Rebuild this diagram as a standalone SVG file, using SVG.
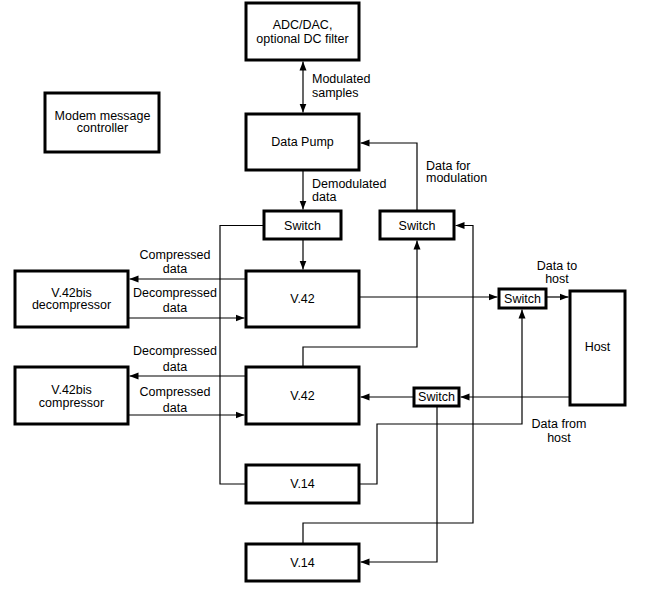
<svg xmlns="http://www.w3.org/2000/svg" width="655" height="589" viewBox="0 0 655 589">
<defs>
<style>
.box{fill:#fff;stroke:#000;stroke-width:3}
.t{font-family:"Liberation Sans",Arial,sans-serif;font-size:12.5px;fill:#000}
.m{text-anchor:middle}
.c{fill:none;stroke:#000;stroke-width:1.2}
</style>
<marker id="ah" markerUnits="userSpaceOnUse" markerWidth="9" markerHeight="8" refX="9" refY="4" orient="auto">
<path d="M0,0.5 L9,4 L0,7.5 z" fill="#000"/>
</marker>
<marker id="as" markerUnits="userSpaceOnUse" markerWidth="9" markerHeight="8" refX="0" refY="4" orient="auto">
<path d="M9,0.5 L0,4 L9,7.5 z" fill="#000"/>
</marker>
</defs>
<rect width="655" height="589" fill="#fff"/>
<g id="connectors">
<line class="c" x1="303" y1="61.5" x2="303" y2="112.5" marker-start="url(#as)" marker-end="url(#ah)"/>
<line class="c" x1="303" y1="170" x2="303" y2="209.5" marker-end="url(#ah)"/>
<line class="c" x1="303" y1="239" x2="303" y2="269.5" marker-end="url(#ah)"/>
<polyline class="c" points="417,211 417,143 360.5,143" marker-end="url(#ah)"/>
<polyline class="c" points="264,225.5 220,225.5 220,484 246,484"/>
<line class="c" x1="246" y1="279" x2="129.5" y2="279" marker-end="url(#ah)"/>
<line class="c" x1="128" y1="318" x2="244.5" y2="318" marker-end="url(#ah)"/>
<line class="c" x1="246" y1="376" x2="129.5" y2="376" marker-end="url(#ah)"/>
<line class="c" x1="128" y1="415" x2="244.5" y2="415" marker-end="url(#ah)"/>
<polyline class="c" points="303,367 303,347 417,347 417,240.5" marker-end="url(#ah)"/>
<line class="c" x1="359" y1="297" x2="497.5" y2="297" marker-end="url(#ah)"/>
<line class="c" x1="546" y1="297" x2="568.5" y2="297" marker-end="url(#ah)"/>
<line class="c" x1="570" y1="397" x2="460.5" y2="397" marker-end="url(#ah)"/>
<line class="c" x1="414" y1="397" x2="360.5" y2="397" marker-end="url(#ah)"/>
<polyline class="c" points="437,406 437,562 360.5,562" marker-end="url(#ah)"/>
<polyline class="c" points="359,484 377,484 377,424 522,424 522,309.5" marker-end="url(#ah)"/>
<polyline class="c" points="303,544 303,523 473,523 473,225.5 455.5,225.5" marker-end="url(#ah)"/>
<text class="t" x="312" y="83">Modulated</text>
<text class="t" x="312" y="96.5">samples</text>
<text class="t" x="312" y="188">Demodulated</text>
<text class="t" x="312" y="201">data</text>
<text class="t" x="426" y="169.5">Data for</text>
<text class="t" x="426" y="182">modulation</text>
<text class="t m" x="175" y="258.5">Compressed</text>
<text class="t m" x="175" y="272.5">data</text>
<text class="t m" x="175" y="297">Decompressed</text>
<text class="t m" x="175" y="312">data</text>
<text class="t m" x="175" y="355">Decompressed</text>
<text class="t m" x="175" y="371">data</text>
<text class="t m" x="175" y="396">Compressed</text>
<text class="t m" x="175" y="411.5">data</text>
<text class="t m" x="557" y="270">Data to</text>
<text class="t m" x="557" y="283">host</text>
<text class="t m" x="559" y="428">Data from</text>
<text class="t m" x="559" y="441.5">host</text>
</g>
<g id="adc"><rect class="box" x="246" y="3" width="113" height="57"/>
<text class="t m" x="302.5" y="29">ADC/DAC,</text>
<text class="t m" x="302.5" y="43">optional DC filter</text></g>
<g id="msgctl"><rect class="box" x="45" y="93" width="114" height="59"/>
<text class="t m" x="102.5" y="119.5">Modem message</text>
<text class="t m" x="102.5" y="132">controller</text></g>
<g id="pump"><rect class="box" x="246" y="114" width="113" height="56"/>
<text class="t m" x="302.5" y="146">Data Pump</text></g>
<g id="sw1"><rect class="box" x="264" y="211" width="77" height="28"/>
<text class="t m" x="302.5" y="229.5">Switch</text></g>
<g id="sw2"><rect class="box" x="380" y="211" width="74" height="28"/>
<text class="t m" x="417" y="229.5">Switch</text></g>
<g id="v42a"><rect class="box" x="246" y="271" width="113" height="56"/>
<text class="t m" x="302.5" y="302.5">V.42</text></g>
<g id="decomp"><rect class="box" x="15" y="271" width="113" height="56"/>
<text class="t m" x="71.5" y="296.5">V.42bis</text>
<text class="t m" x="71.5" y="309">decompressor</text></g>
<g id="v42b"><rect class="box" x="246" y="367" width="113" height="57"/>
<text class="t m" x="302.5" y="400">V.42</text></g>
<g id="comp"><rect class="box" x="15" y="367" width="113" height="57"/>
<text class="t m" x="71.5" y="393.5">V.42bis</text>
<text class="t m" x="71.5" y="406.5">compressor</text></g>
<g id="sw3"><rect class="box" x="499" y="289" width="47" height="19"/>
<text class="t m" x="522.5" y="302.5">Switch</text></g>
<g id="host"><rect class="box" x="570" y="291" width="55" height="114"/>
<text class="t m" x="597.5" y="350.5">Host</text></g>
<g id="sw4"><rect class="box" x="414" y="388" width="45" height="18"/>
<text class="t m" x="436.5" y="401">Switch</text></g>
<g id="v14a"><rect class="box" x="246" y="465" width="113" height="38"/>
<text class="t m" x="302.5" y="488">V.14</text></g>
<g id="v14b"><rect class="box" x="246" y="544" width="113" height="37"/>
<text class="t m" x="302.5" y="566.5">V.14</text></g>
</svg>
